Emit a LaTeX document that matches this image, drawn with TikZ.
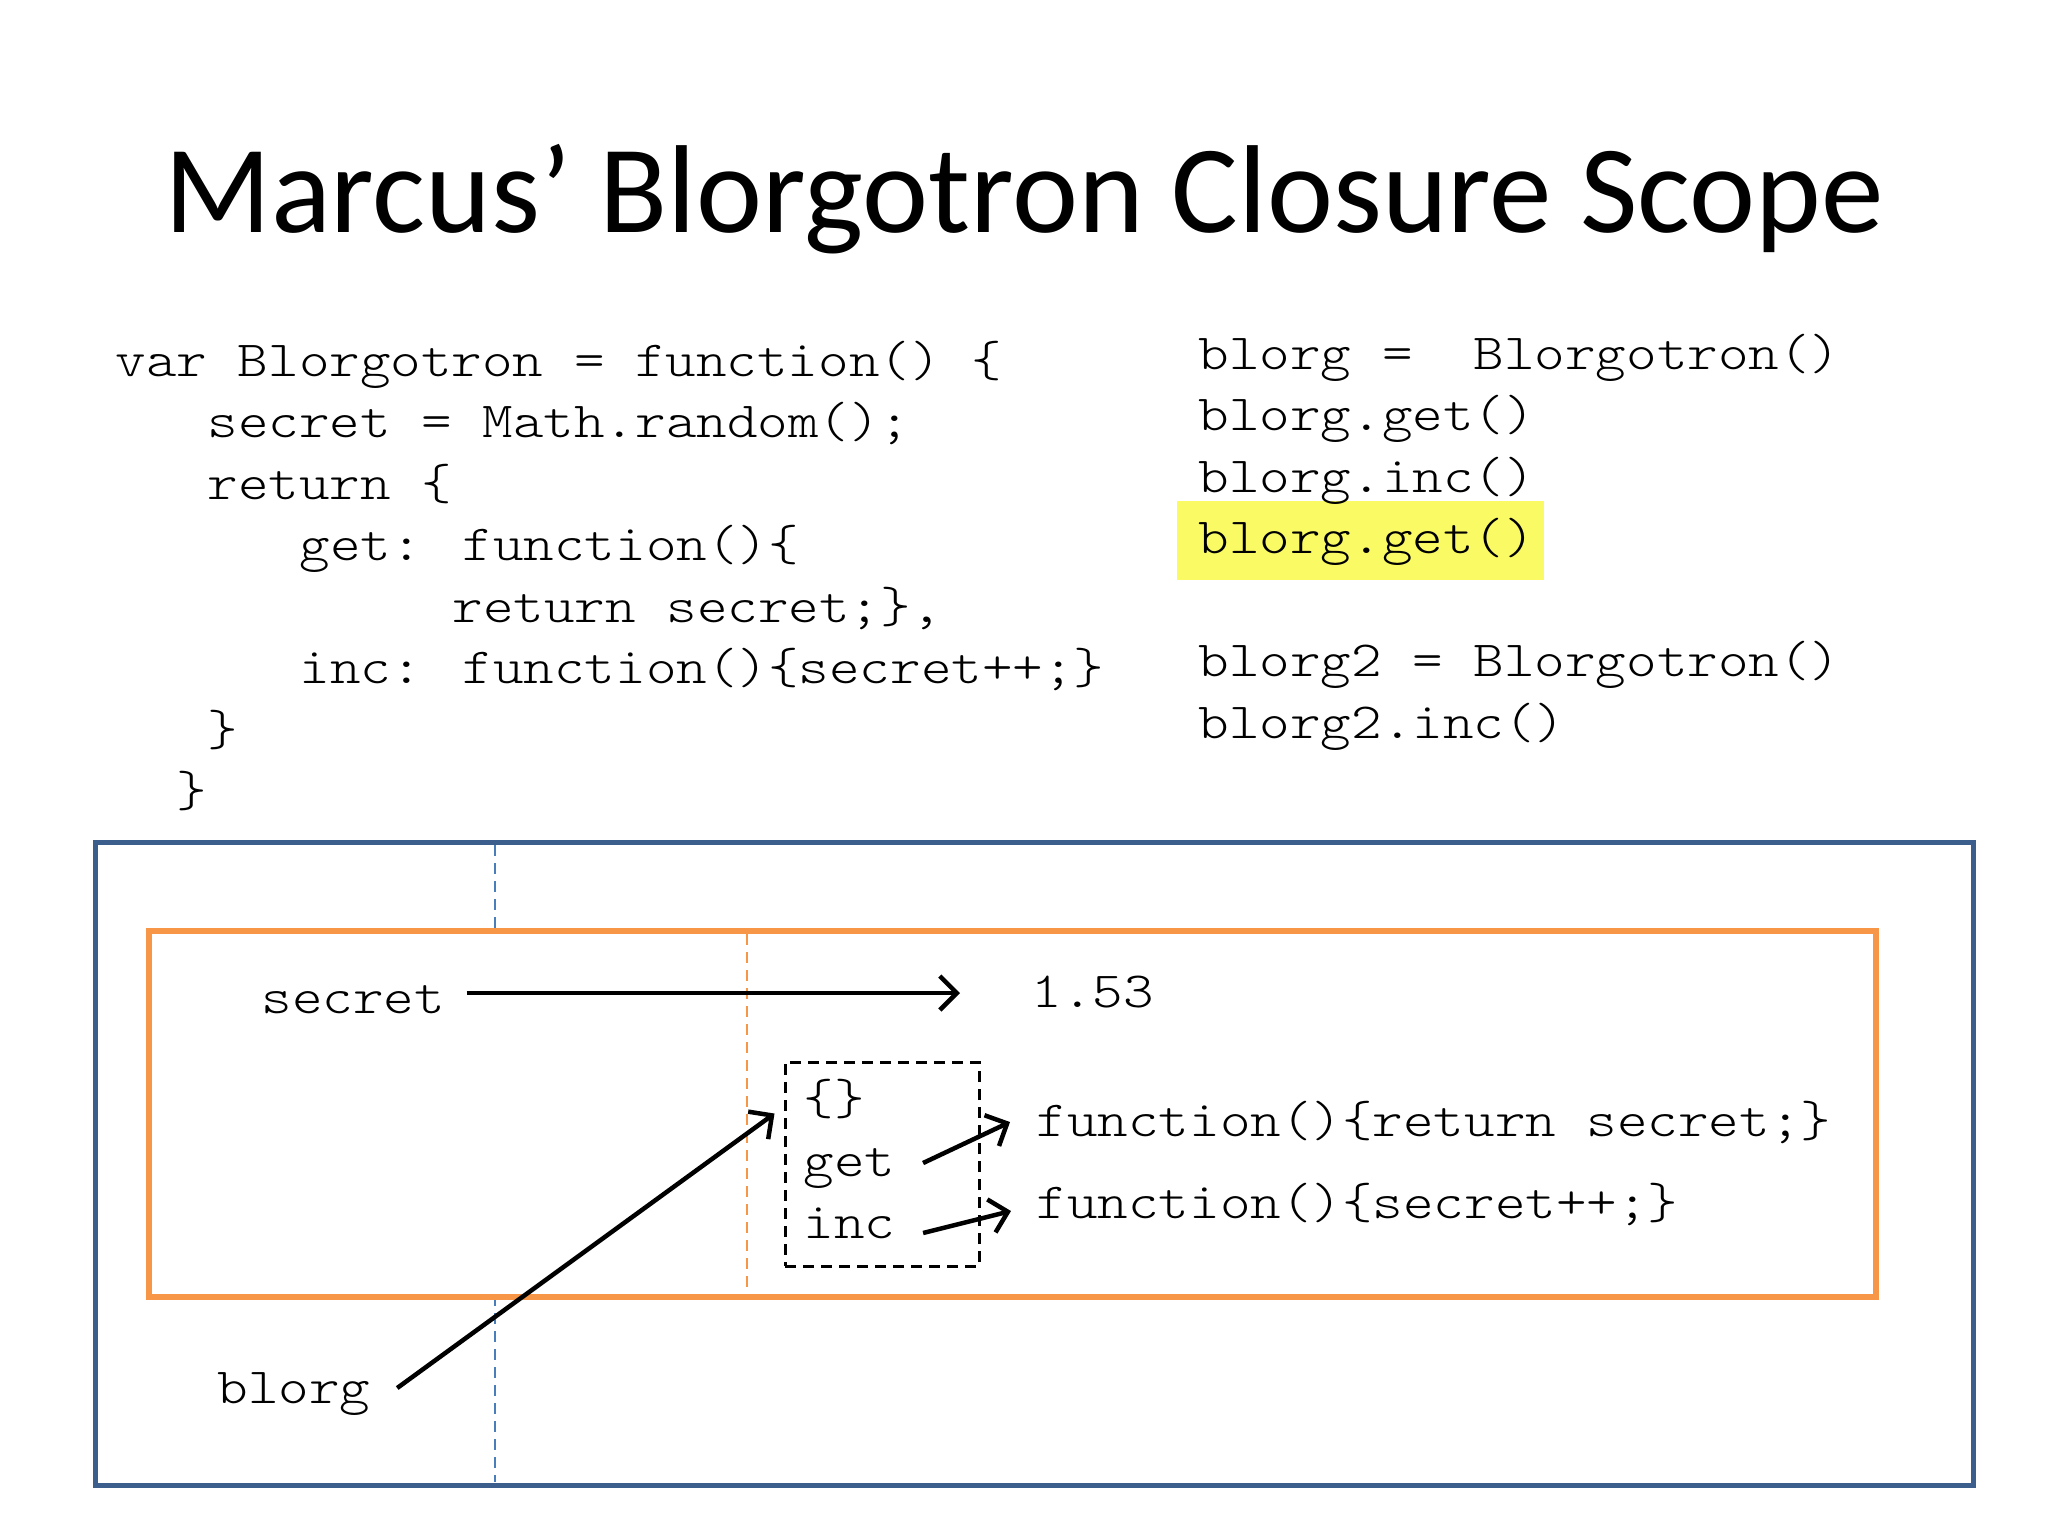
\documentclass[tikz,border=0pt]{standalone}
\usepackage{fontspec}
\setmainfont{Carlito}
\newfontfamily\codefont[FakeStretch=1.15]{lmmonolt10-regular.otf}
\usetikzlibrary{arrows.meta}
\definecolor{frameblue}{RGB}{59,94,140}
\definecolor{dashblue}{RGB}{74,126,187}
\definecolor{scopeorange}{RGB}{247,150,70}
\definecolor{hlyellow}{RGB}{250,250,100}
\tikzset{
  titletext/.style={font=\fontsize{35.6}{40}\selectfont, inner sep=0pt, anchor=base},
  code/.style={font=\codefont\fontsize{14.4}{17}\selectfont, inner sep=0pt, anchor=base west},
  ptr/.style={draw=black, line width=0.45mm, -{Straight Barb[length=1.7mm,width=3.4mm]}},
  outerscope/.style={draw=frameblue, line width=0.5mm},
  innerscope/.style={draw=scopeorange, line width=0.55mm, fill=white},
  bluedash/.style={draw=dashblue, line width=0.25mm, dash pattern=on 1.1mm off 0.7mm},
  orangedash/.style={draw=scopeorange, line width=0.22mm, dash pattern=on 1.1mm off 0.7mm},
  objbox/.style={draw=black, line width=0.3mm, dash pattern=on 1.1mm off 0.7mm, inner sep=0pt,
    minimum width=19.4mm, minimum height=20.4mm},
}
\begin{document}
\begin{tikzpicture}[x=0.1mm,y=-0.1mm]
\useasboundingbox (0,0) rectangle (2048,1536);
\fill[white] (0,0) rectangle (2048,1536);

% title
\node[titletext] (title) at (1024,232) {Marcus’ Blorgotron Closure Scope};

% left code
\node[code] (c1) at (115,376)   {var Blorgotron = function() \{};
\node[code] (c2) at (207,437.5) {secret = Math.random();};
\node[code] (c3) at (207,499)   {return \{};
\node[code] (c4) at (299,560.5) {get: function()\{};
\node[code] (c5) at (452,622)   {return secret;\},};
\node[code] (c6) at (299,683.5) {inc: function()\{secret++;\}};
\node[code] (c7) at (207,745)   {\}};
\node[code] (c8) at (176,806.5) {\}};

% right code
\fill[hlyellow] (1177,501) rectangle (1544,580);
\node[code] (r1) at (1198,369)   {blorg = \ Blorgotron()};
\node[code] (r2) at (1198,430.5) {blorg.get()};
\node[code] (r3) at (1198,492)   {blorg.inc()};
\node[code] (r4) at (1198,553.5) {blorg.get()};
\node[code] (r5) at (1198,676.5) {blorg2 = Blorgotron()};
\node[code] (r6) at (1198,738)   {blorg2.inc()};

% scopes
\draw[outerscope] (95,842) rectangle (1973,1485);
\draw[bluedash] (495,845) -- (495,1482);
\draw[innerscope] (149,931) rectangle (1876,1297);
\draw[orangedash] (747,934) -- (747,1294);

% diagram contents
\node[code] (secret) at (261,1013) {secret};
\node[code] (val) at (1031,1007) {1.53};
\node[objbox] (obj) at (882,1164) {};
\node[code] (braces) at (803,1114) {\{\}};
\node[code] (get) at (803,1176) {get};
\node[code] (inc) at (803,1238) {inc};
\node[code] (fget) at (1036,1136) {function()\{return secret;\}};
\node[code] (finc) at (1036,1218) {function()\{secret++;\}};
\node[code] (blorg) at (217,1403) {blorg};

\draw[ptr] ([shift={(21,-20)}]secret.base east) -- ([shift={(-71,-14)}]val.base west);
\draw[ptr] ([shift={(27,-13)}]get.base east) -- ([shift={(-26,-14)}]fget.base west);
\draw[ptr] ([shift={(27,-5)}]inc.base east) -- ([shift={(-25,-7)}]finc.base west);
\draw[ptr] ([shift={(26,-15)}]blorg.base east) -- ([shift={(-9,53)}]obj.north west);
\end{tikzpicture}
\end{document}
